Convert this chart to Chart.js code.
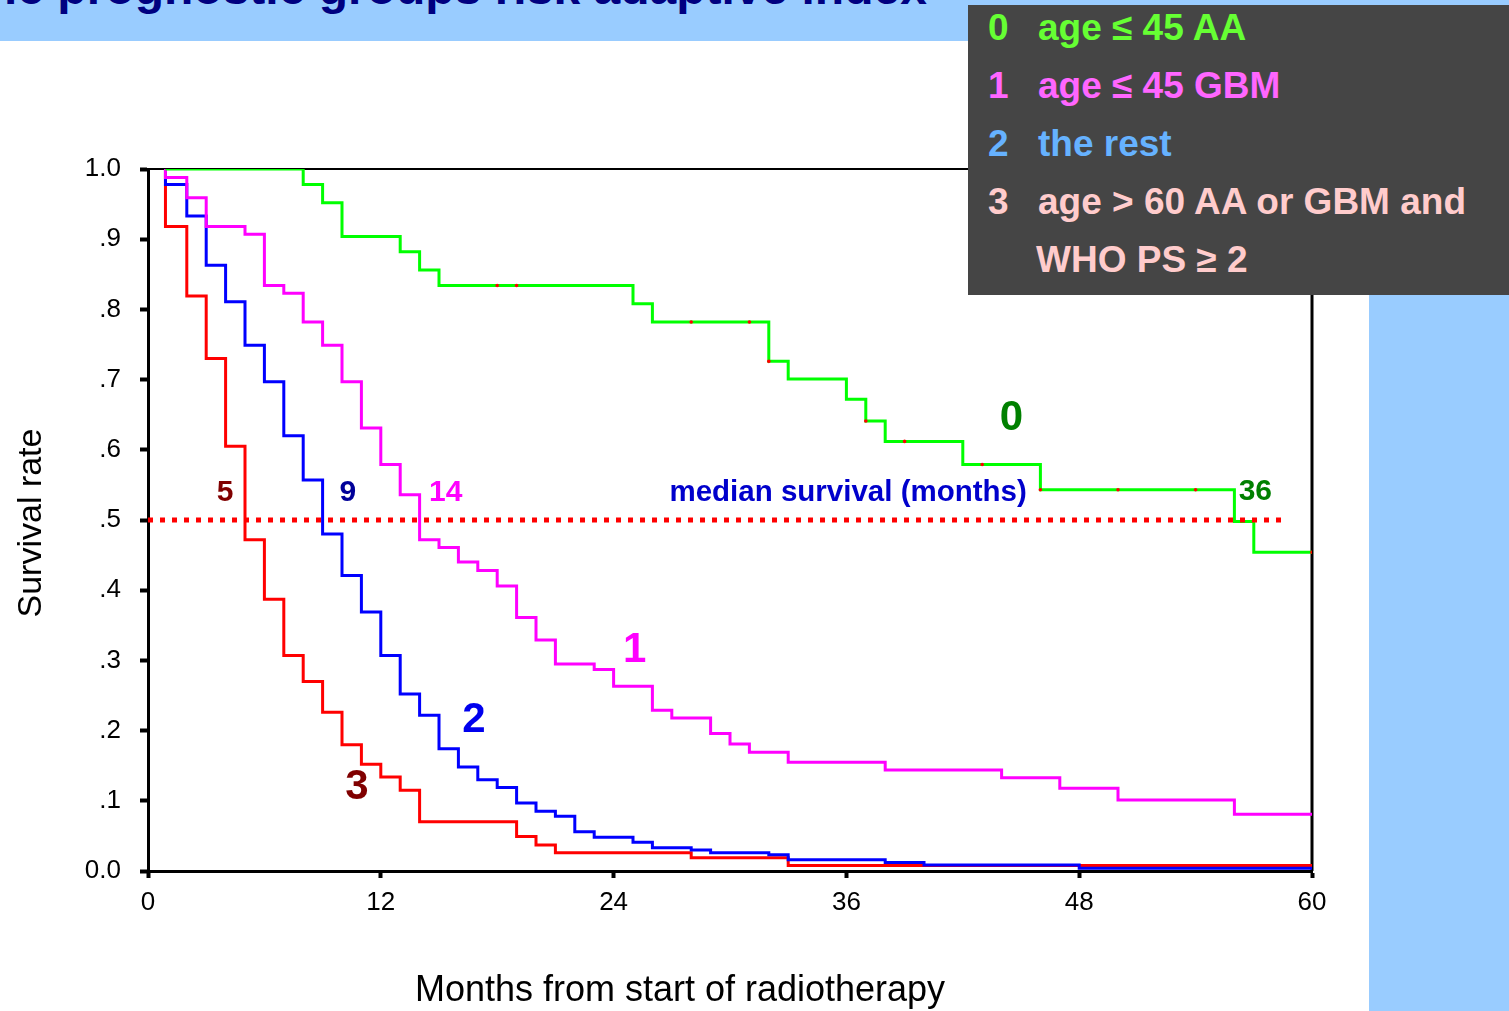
<!DOCTYPE html>
<html>
<head>
<meta charset="utf-8">
<title>Survival by prognostic group</title>
<script src="https://cdn.jsdelivr.net/npm/chart.js@4.4.1/dist/chart.umd.min.js"></script>
<style>
  html, body { margin: 0; padding: 0; background: #fff; overflow: hidden; }
  body { width: 1509px; height: 1011px; position: relative; font-family: "Liberation Sans", Arial, sans-serif; }
  .band-top { position: absolute; left: 0; top: 0; width: 1509px; height: 41px; background: #99ccff; }
  .band-right { position: absolute; left: 1369px; top: 0; width: 140px; height: 1011px; background: #99ccff; }
  .title { position: absolute; left: 4px; top: -36px; font-size: 48px; line-height: 48px; font-weight: bold; color: #000080; white-space: nowrap; }
  #wrap { position: absolute; left: 0; top: 0; width: 1509px; height: 1011px; }
  .legend { position: absolute; left: 968px; top: 5px; width: 541px; height: 290px; background: #454545; }
  .legend div { position: absolute; font-size: 37px; line-height: 40px; font-weight: bold; white-space: nowrap; }
</style>
</head>
<body>
<div class="band-top"></div>
<div class="band-right"></div>
<div class="title">ic prognostic groups risk adaptive index</div>
<div id="wrap"><canvas id="km" width="1509" height="1011"></canvas></div>
<div class="legend" id="legend"></div>

<script>
// tick labels
const xTickLabels = ["0", "12", "24", "36", "48", "60"];
const yTickLabels = ["0.0", ".1", ".2", ".3", ".4", ".5", ".6", ".7", ".8", ".9", "1.0"];

// group 0: age <= 45 AA
const months0 = [0.9, 8, 9, 10, 13, 14, 15, 25, 26, 32, 33, 36, 37, 38, 42, 46, 56, 57, 60];
const surv0   = [1.0, 0.978, 0.952, 0.904, 0.882, 0.856, 0.834, 0.808, 0.782, 0.726, 0.701, 0.672, 0.641, 0.612, 0.579, 0.543, 0.498, 0.454, 0.454];

// group 1: age <= 45 GBM
const months1 = [0.9, 0.9, 2, 3, 5, 6, 7, 8, 9, 10, 11, 12, 13, 14, 15, 16, 17, 18, 19, 20, 21, 23, 24, 26, 27, 29, 30, 31, 33, 38, 44, 47, 50, 56, 60];
const surv1   = [1.0, 0.988, 0.959, 0.918, 0.907, 0.834, 0.823, 0.782, 0.749, 0.697, 0.631, 0.579, 0.536, 0.472, 0.461, 0.440, 0.428, 0.406, 0.361, 0.329, 0.295, 0.287, 0.263, 0.229, 0.218, 0.196, 0.181, 0.169, 0.155, 0.144, 0.133, 0.118, 0.101, 0.081, 0.081];

// group 2: the rest
const months2 = [0.9, 0.9, 2, 3, 4, 5, 6, 7, 8, 9, 10, 11, 12, 13, 14, 15, 16, 17, 18, 19, 20, 21, 22, 23, 25, 26, 28, 29, 32, 33, 38, 40, 48, 60];
const surv2   = [1.0, 0.978, 0.933, 0.863, 0.811, 0.749, 0.697, 0.620, 0.557, 0.480, 0.421, 0.369, 0.307, 0.252, 0.222, 0.174, 0.148, 0.130, 0.119, 0.097, 0.085, 0.078, 0.056, 0.048, 0.041, 0.033, 0.030, 0.026, 0.023, 0.016, 0.012, 0.0085, 0.004, 0.004];

// group 3: age > 60 AA or GBM and WHO PS >= 2
const months3 = [0.9, 0.9, 2, 3, 4, 5, 6, 7, 8, 9, 10, 11, 12, 13, 14, 19, 20, 21, 28, 33, 60];
const surv3   = [1.0, 0.918, 0.819, 0.730, 0.605, 0.472, 0.387, 0.307, 0.270, 0.226, 0.180, 0.152, 0.134, 0.115, 0.070, 0.049, 0.037, 0.026, 0.019, 0.008, 0.008];

// censored observations marked on group 0
const censorMonths0 = [18, 19, 28, 31, 32, 37, 39, 43, 46, 50, 54, 60];
const censorSurv0   = [0.834, 0.834, 0.782, 0.782, 0.726, 0.641, 0.612, 0.579, 0.543, 0.543, 0.543, 0.454];

// median reference line
const medianMonths = [0, 58.5];
const medianSurv   = [0.5, 0.5];

const legendNums  = ["0", "1", "2", "3", ""];
const legendTexts = ["age \u2264 45 AA", "age \u2264 45 GBM", "the rest", "age > 60 AA or GBM and", "WHO PS \u2265 2"];
const legendColors = ["#66ff33", "#ff66ff", "#66b2ff", "#ffcccc", "#ffcccc"];

const FONT = '"Liberation Sans", Arial, sans-serif';

// legend box
const legendBox = document.getElementById("legend");
legendTexts.forEach(function(t, i) {
    const top = 3 + i * 58;
    const n = document.createElement("div");
    n.textContent = legendNums[i];
    n.style.left = "20px";
    n.style.top = top + "px";
    n.style.color = legendColors[i];
    legendBox.appendChild(n);
    const d = document.createElement("div");
    d.textContent = t;
    d.style.left = (i === 4 ? 68 : 70) + "px";
    d.style.top = top + "px";
    d.style.color = legendColors[i];
    legendBox.appendChild(d);
});

function toPoints(xs, ys) {
    return xs.map(function(x, i) { return { x: x, y: ys[i] }; });
}

// labels written on the plot, placed in data units
const notes = [
    { text: "5", x: 3.97, y: 0.539, color: "#800000", size: 30 },
    { text: "9", x: 10.3, y: 0.539, color: "#000099", size: 30 },
    { text: "14", x: 15.35, y: 0.539, color: "#ff00ff", size: 30 },
    { text: "median survival (months)", x: 36.09, y: 0.539, color: "#0000cc", size: 29.5 },
    { text: "36", x: 57.08, y: 0.540, color: "#008000", size: 30 },
    { text: "0", x: 44.51, y: 0.644, color: "#008000", size: 42 },
    { text: "1", x: 25.09, y: 0.314, color: "#ff00ff", size: 42 },
    { text: "2", x: 16.8, y: 0.214, color: "#0000ee", size: 42 },
    { text: "3", x: 10.77, y: 0.119, color: "#800000", size: 42 }
];

const framePlugin = {
    id: "frame",
    beforeDatasetsDraw(chart) {
        const a = chart.chartArea, ctx = chart.ctx;
        ctx.save();
        ctx.strokeStyle = "#000";
        ctx.lineWidth = 2;
        ctx.beginPath();
        ctx.moveTo(a.left, a.top);
        ctx.lineTo(a.right, a.top);
        ctx.stroke();
        ctx.lineWidth = 3;
        ctx.beginPath();
        ctx.moveTo(a.right, a.top);
        ctx.lineTo(a.right, a.bottom);
        ctx.stroke();
        ctx.restore();
    },
    afterDraw(chart) {
        const a = chart.chartArea, ctx = chart.ctx;
        const xs = chart.scales.x, ys = chart.scales.y;
        ctx.save();
        ctx.textAlign = "center";
        ctx.textBaseline = "middle";
        notes.forEach(function(n) {
            ctx.font = "bold " + n.size + "px " + FONT;
            ctx.fillStyle = n.color;
            ctx.fillText(n.text, xs.getPixelForValue(n.x), ys.getPixelForValue(n.y));
        });
        // axis titles
        ctx.fillStyle = "#000";
        ctx.font = "36px " + FONT;
        ctx.fillText("Months from start of radiotherapy", a.left + 532, a.bottom + 120);
        ctx.translate(32, (a.top + a.bottom) / 2 + 3);
        ctx.rotate(-Math.PI / 2);
        ctx.font = "34px " + FONT;
        ctx.fillText("Survival rate", 0, 0);
        ctx.restore();
    }
};

function curve(xs, ys, color) {
    return {
        data: toPoints(xs, ys),
        borderColor: color,
        borderWidth: 3,
        pointRadius: 0,
        stepped: true,
        fill: false
    };
}

new Chart(document.getElementById("km"), {
    type: "line",
    data: {
        datasets: [
            {
                data: toPoints(medianMonths, medianSurv),
                borderColor: "#ff0000",
                borderWidth: 5,
                borderDash: [5, 7],
                borderCapStyle: "butt",
                pointRadius: 0,
                fill: false
            },
            {
                data: toPoints(censorMonths0, censorSurv0),
                showLine: false,
                pointRadius: 1.8,
                pointBorderWidth: 0,
                pointBackgroundColor: "#ff0000"
            },
            curve(months0, surv0, "#00ff00"),
            curve(months1, surv1, "#ff00ff"),
            curve(months2, surv2, "#0000ff"),
            curve(months3, surv3, "#ff0000")
        ]
    },
    options: {
        responsive: false,
        animation: false,
        events: [],
        layout: { padding: { top: 169, right: 197, left: 0, bottom: 0 } },
        plugins: {
            legend: { display: false },
            tooltip: { enabled: false }
        },
        scales: {
            x: {
                type: "linear",
                min: 0,
                max: 60,
                afterFit: function(s) { s.height = 140; },
                ticks: {
                    stepSize: 12,
                    color: "#000",
                    padding: 9,
                    font: { family: FONT, size: 26 },
                    callback: function(v, i) { return xTickLabels[i]; }
                },
                grid: { drawOnChartArea: false, tickLength: 7, tickWidth: 4, tickColor: "#000" },
                border: { color: "#000", width: 3 }
            },
            y: {
                min: 0,
                max: 1,
                afterFit: function(s) { s.width = 148; },
                ticks: {
                    stepSize: 0.1,
                    color: "#000",
                    padding: 19,
                    font: { family: FONT, size: 26 },
                    callback: function(v, i) { return yTickLabels[i]; }
                },
                grid: { drawOnChartArea: false, tickLength: 8, tickWidth: 4, tickColor: "#000" },
                border: { color: "#000", width: 3 }
            }
        }
    },
    plugins: [framePlugin]
});
</script>
</body>
</html>
